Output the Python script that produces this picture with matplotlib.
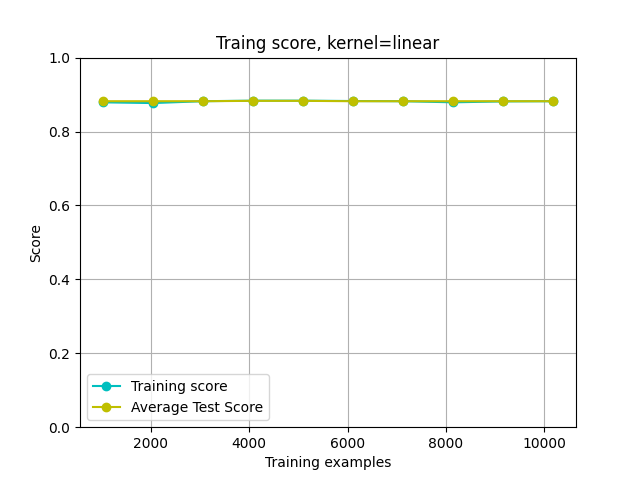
import numpy as np
import matplotlib
matplotlib.use("Agg")
import matplotlib.pyplot as plt

train_sizes = [1018, 2037, 3056, 4074, 5093, 6112, 7130, 8149, 9168, 10187]
train_scores = [0.879, 0.877, 0.882, 0.8835, 0.8835, 0.8825, 0.882, 0.879, 0.8815, 0.882]
test_scores = [0.882, 0.882, 0.882, 0.883, 0.883, 0.882, 0.882, 0.882, 0.882, 0.882]

fig = plt.figure(figsize=(6.4, 4.8), dpi=100)
plt.title("Traing score, kernel=linear")
plt.xlabel("Training examples")
plt.ylabel("Score")
plt.ylim(0, 1)
plt.grid()
plt.plot(train_sizes, train_scores, 'o-', color='c', label="Training score")
plt.plot(train_sizes, test_scores, 'o-', color='y', label="Average Test Score")
plt.legend(loc="best")
plt.savefig("out.png")
